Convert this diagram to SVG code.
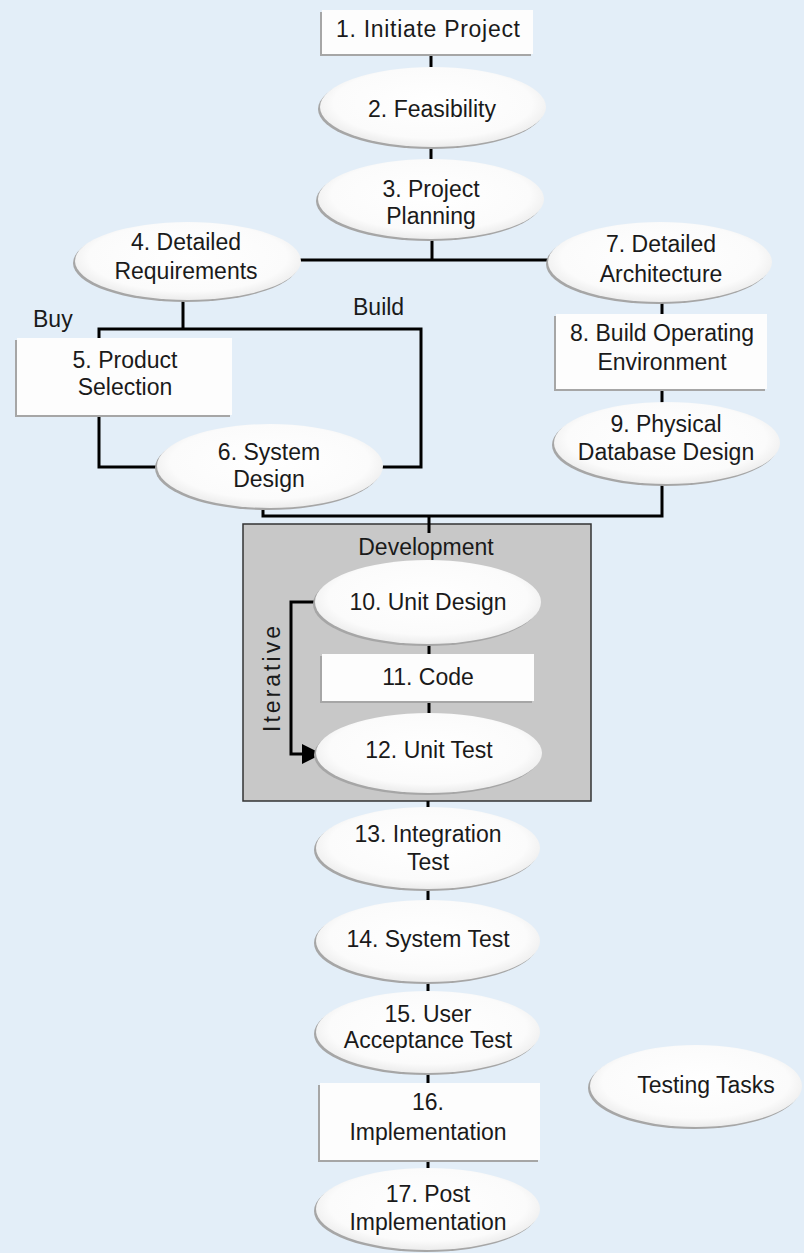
<svg xmlns="http://www.w3.org/2000/svg" width="804" height="1253" viewBox="0 0 804 1253">
<defs>
<radialGradient id="eg" cx="50%" cy="45%" r="55%">
<stop offset="0%" stop-color="#ffffff"/>
<stop offset="80%" stop-color="#fbfbfb"/>
<stop offset="100%" stop-color="#ececec"/>
</radialGradient>
<marker id="ah" markerWidth="10" markerHeight="10" refX="9" refY="5" orient="auto" markerUnits="userSpaceOnUse">
<path d="M0,0 L10,5 L0,10 Z" fill="#000"/>
</marker>
</defs>
<style>
.bg{fill:#e3eef8}
.sh{fill:#a6a6a6}
.el{fill:url(#eg)}
.rc{fill:#fdfdfd}
.t{font-family:"Liberation Sans",Arial,sans-serif;font-size:23px;fill:#1a1a1a;text-anchor:middle}
.tl{font-family:"Liberation Sans",Arial,sans-serif;font-size:23px;fill:#1a1a1a}
.ln{fill:none;stroke:#000;stroke-width:3}
.dev{fill:#c8c8c8;stroke:#333;stroke-width:1.5}
</style>
<rect class="bg" x="0" y="0" width="804" height="1253"/>

<g id="development">
<rect class="dev" x="243" y="524" width="348" height="277"/>
<text class="t" x="426" y="555">Development</text>
</g>

<g id="connectors">
<line class="ln" x1="431" y1="54" x2="431" y2="67"/>
<line class="ln" x1="431" y1="147" x2="431" y2="161"/>
<line class="ln" x1="432" y1="239" x2="432" y2="260"/>
<line class="ln" x1="300" y1="260" x2="550" y2="260"/>
<line class="ln" x1="183" y1="299" x2="183" y2="329"/>
<polyline class="ln" points="99,338 99,329 421,329 421,467 381,467"/>
<polyline class="ln" points="99,415 99,467 159,467"/>
<line class="ln" x1="662" y1="301" x2="662" y2="314"/>
<line class="ln" x1="662" y1="389" x2="662" y2="403"/>
<polyline class="ln" points="263,507 263,516 662,516 662,483"/>
<line class="ln" x1="429" y1="516" x2="429" y2="533"/>
<line class="ln" x1="429" y1="644" x2="429" y2="655"/>
<line class="ln" x1="429" y1="701" x2="429" y2="713"/>
<polyline class="ln" points="316,602 291,602 291,754 304,754"/>
<polygon points="302,744 322,754 302,764" fill="#000"/>
<line class="ln" x1="428" y1="801" x2="428" y2="808"/>
<line class="ln" x1="428" y1="888" x2="428" y2="901"/>
<line class="ln" x1="428" y1="982" x2="428" y2="993"/>
<line class="ln" x1="428" y1="1073" x2="428" y2="1084"/>
<line class="ln" x1="428" y1="1160" x2="428" y2="1169"/>
</g>

<g id="labels">
<text class="tl" x="33" y="327">Buy</text>
<text class="tl" x="353" y="315">Build</text>
<text class="t" transform="translate(280,679) rotate(-90)" textLength="106" lengthAdjust="spacing">Iterative</text>
</g>

<g id="n1">
<rect class="sh" x="320" y="12" width="211" height="44"/>
<rect class="rc" x="322" y="10" width="211" height="44"/>
<text class="t" x="428" y="37" textLength="184" lengthAdjust="spacing">1. Initiate Project</text>
</g>

<g id="n2">
<ellipse class="sh" cx="431" cy="109" rx="113" ry="40"/>
<ellipse class="el" cx="433" cy="107" rx="113" ry="40"/>
<text class="t" x="432" y="117">2. Feasibility</text>
</g>

<g id="n3">
<ellipse class="sh" cx="429" cy="201" rx="113" ry="40"/>
<ellipse class="el" cx="431" cy="199" rx="113" ry="40"/>
<text class="t" x="431" y="197">3. Project</text>
<text class="t" x="431" y="224">Planning</text>
</g>

<g id="n4">
<ellipse class="sh" cx="186" cy="263" rx="113" ry="39"/>
<ellipse class="el" cx="188" cy="261" rx="113" ry="39"/>
<text class="t" x="186" y="250">4. Detailed</text>
<text class="t" x="186" y="279">Requirements</text>
</g>

<g id="n5">
<rect class="sh" x="15" y="340" width="215" height="77"/>
<rect class="rc" x="17" y="338" width="215" height="77"/>
<text class="t" x="125" y="368">5. Product</text>
<text class="t" x="125" y="395">Selection</text>
</g>

<g id="n6">
<ellipse class="sh" cx="268" cy="468" rx="113" ry="42"/>
<ellipse class="el" cx="270" cy="466" rx="113" ry="42"/>
<text class="t" x="269" y="460">6. System</text>
<text class="t" x="269" y="487">Design</text>
</g>

<g id="n7">
<ellipse class="sh" cx="658" cy="264" rx="112" ry="40"/>
<ellipse class="el" cx="660" cy="262" rx="112" ry="40"/>
<text class="t" x="661" y="252">7. Detailed</text>
<text class="t" x="661" y="282">Architecture</text>
</g>

<g id="n8">
<rect class="sh" x="554" y="316" width="211" height="75"/>
<rect class="rc" x="556" y="314" width="211" height="75"/>
<text class="t" x="662" y="341">8. Build Operating</text>
<text class="t" x="662" y="370">Environment</text>
</g>

<g id="n9">
<ellipse class="sh" cx="665" cy="445" rx="113" ry="41"/>
<ellipse class="el" cx="667" cy="443" rx="113" ry="41"/>
<text class="t" x="666" y="432">9. Physical</text>
<text class="t" x="666" y="460">Database Design</text>
</g>

<g id="n10">
<ellipse class="sh" cx="426" cy="604" rx="113" ry="42"/>
<ellipse class="el" cx="428" cy="602" rx="113" ry="42"/>
<text class="t" x="428" y="610">10. Unit Design</text>
</g>

<g id="n11">
<rect class="sh" x="320" y="656" width="212" height="47"/>
<rect class="rc" x="322" y="654" width="212" height="47"/>
<text class="t" x="428" y="685">11. Code</text>
</g>

<g id="n12">
<ellipse class="sh" cx="427" cy="755" rx="113" ry="40"/>
<ellipse class="el" cx="429" cy="753" rx="113" ry="40"/>
<text class="t" x="429" y="758">12. Unit Test</text>
</g>

<g id="n13">
<ellipse class="sh" cx="426" cy="850" rx="112" ry="41"/>
<ellipse class="el" cx="428" cy="848" rx="112" ry="41"/>
<text class="t" x="428" y="842">13. Integration</text>
<text class="t" x="428" y="870">Test</text>
</g>

<g id="n14">
<ellipse class="sh" cx="426" cy="943" rx="112" ry="41"/>
<ellipse class="el" cx="428" cy="941" rx="112" ry="41"/>
<text class="t" x="428" y="947">14. System Test</text>
</g>

<g id="n15">
<ellipse class="sh" cx="426" cy="1034" rx="112" ry="41"/>
<ellipse class="el" cx="428" cy="1032" rx="112" ry="41"/>
<text class="t" x="428" y="1022">15. User</text>
<text class="t" x="428" y="1048">Acceptance Test</text>
</g>

<g id="n16">
<rect class="sh" x="318" y="1085" width="220" height="77"/>
<rect class="rc" x="320" y="1083" width="220" height="77"/>
<text class="t" x="428" y="1110">16.</text>
<text class="t" x="428" y="1140">Implementation</text>
</g>

<g id="n17">
<ellipse class="sh" cx="426" cy="1211" rx="112" ry="41"/>
<ellipse class="el" cx="428" cy="1209" rx="112" ry="41"/>
<text class="t" x="428" y="1202">17. Post</text>
<text class="t" x="428" y="1230">Implementation</text>
</g>

<g id="testing-tasks">
<ellipse class="sh" cx="694" cy="1088" rx="106" ry="41"/>
<ellipse class="el" cx="696" cy="1086" rx="106" ry="41"/>
<text class="t" x="706" y="1093">Testing Tasks</text>
</g>
</svg>
